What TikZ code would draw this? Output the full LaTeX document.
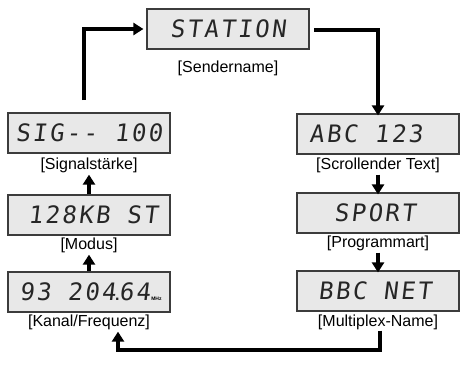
\documentclass[tikz,border=0pt]{standalone}
\usepackage{fontspec}
\setmainfont{Liberation Sans}
\newfontfamily\lcdfont[FakeSlant=0.12,LetterSpace=10]{DejaVu Sans Mono}
\usetikzlibrary{arrows.meta}
\definecolor{lcdfill}{RGB}{232,232,232}
\definecolor{lcdedge}{RGB}{60,60,60}
\tikzset{
  lcdbox/.style={draw=lcdedge,line width=1.2pt,fill=lcdfill,minimum width=162pt,minimum height=40pt,inner sep=0pt},
  lcdtext/.style={font=\lcdfont\fontsize{24}{24}\selectfont,inner sep=0pt,text=black!85},
  caption/.style={font=\fontsize{16}{17}\selectfont,inner sep=1pt},
  flow/.style={line width=3.6pt,-{Triangle[width=12pt,length=10pt]}},
}
\begin{document}
\begin{tikzpicture}[x=1pt,y=-1pt]
\useasboundingbox (0,0) rectangle (460,380);
% boxes
\node[lcdbox] (st) at (228,29) {};
\node[lcdtext] at (st) {STATION};
\node[caption] (stl) at (228,68) {[Sendername]};

\node[lcdbox] (sig) at (89,133) {};
\node[lcdtext] at (sig) {SIG-- 100};
\node[caption] (sigl) at (89,165) {[Signalstärke]};

\node[lcdbox] (mod) at (89,215) {};
\node[lcdtext] at ([xshift=4pt]mod.center) {128KB ST};
\node[caption] (modl) at (89,245) {[Modus]};

\node[lcdbox] (kan) at (89,292) {};
\node[lcdtext,anchor=west] (kant) at ([xshift=12pt]kan.west) {93 204\rlap{\normalfont\fontsize{16}{16}\selectfont\bfseries\kern-0.8pt.}\kern3.2pt 64};
\node[font=\fontsize{5}{5}\selectfont\bfseries,inner sep=0pt,anchor=base west] (mhz) at ([xshift=0.5pt]kant.base east) {MHz};
\node[caption] (kanl) at (89,322) {[Kanal/Frequenz]};

\node[lcdbox] (abc) at (378,134) {};
\node[lcdtext] at ([xshift=-12pt]abc.center) {ABC 123};
\node[caption] (abcl) at (378,165) {[Scrollender Text]};

\node[lcdbox] (sp) at (378,213) {};
\node[lcdtext] at ([xshift=-3pt]sp.center) {SPORT};
\node[caption] (spl) at (378,243) {[Programmart]};

\node[lcdbox] (bbc) at (378,291) {};
\node[lcdtext] at ([xshift=-3pt]bbc.center) {BBC NET};
\node[caption] (bbcl) at (378,322) {[Multiplex-Name]};

% connectors
\coordinate (c1) at (84,100);
\draw[flow] (c1) |- ([xshift=-3pt]st.west);
\coordinate (c2) at (314,30);
\draw[flow] (c2) -| ([yshift=-2pt]abc.north -| 378,0);

\draw[flow] ([yshift=-1pt]abcl.south) -- ([yshift=-2pt]sp.north);
\draw[flow] ([yshift=-1pt]spl.south) -- ([yshift=-2pt]bbc.north);
\draw[flow] (sig.south |- mod.north) -- ([yshift=-1pt]sigl.south);
\draw[flow] (mod.south |- kan.north) -- ([yshift=-1pt]modl.south);

\coordinate (c3) at (380,350);
\draw[flow] (bbcl.south -| 380,0) -- (c3) -| ([xshift=29pt,yshift=-1pt]kanl.south);
\end{tikzpicture}
\end{document}
